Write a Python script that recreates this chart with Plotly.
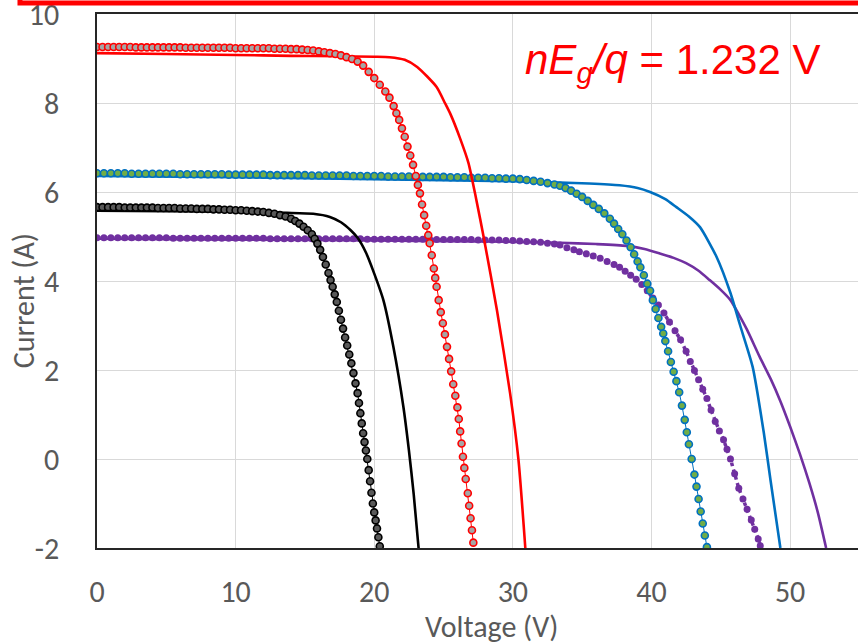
import plotly.graph_objects as go

# ---- measured I-V points (voltage in V, current in A) ----
red_meas_v = [0.0, 0.4, 0.8, 1.2, 1.6, 2.0, 2.4, 2.8, 3.2, 3.6, 4.0, 4.4, 4.8, 5.2, 5.6, 6.0,
              6.4, 6.8, 7.2, 7.6, 8.0, 8.4, 8.8, 9.2, 9.6, 10.0, 10.4, 10.8, 11.2, 11.6, 12.0,
              12.4, 12.8, 13.2, 13.6, 14.0, 14.4, 14.8, 15.2, 15.6, 16.0, 16.4, 16.8, 17.2,
              17.6, 18.0, 18.4, 18.8, 19.2, 19.6, 20.0, 20.4, 20.8, 21.1, 21.4, 21.6, 21.8,
              22.0, 22.2, 22.4, 22.6, 22.8, 23.0, 23.15, 23.3, 23.45, 23.6, 23.75, 23.9, 24.0,
              24.15, 24.3, 24.4, 24.5, 24.65, 24.8, 24.95, 25.1, 25.25, 25.4, 25.55, 25.7,
              25.85, 26.0, 26.1, 26.2, 26.3, 26.4, 26.5, 26.6, 26.75, 26.85, 26.95, 27.05, 27.15]
red_meas_i = [9.26, 9.26, 9.26, 9.26, 9.26, 9.26, 9.26, 9.25, 9.25, 9.25, 9.25, 9.25, 9.25, 9.25,
              9.25, 9.25, 9.24, 9.24, 9.24, 9.24, 9.24, 9.24, 9.24, 9.24, 9.24, 9.23, 9.23, 9.23,
              9.23, 9.23, 9.23, 9.23, 9.22, 9.22, 9.22, 9.21, 9.21, 9.20, 9.19, 9.18, 9.16, 9.14,
              9.12, 9.10, 9.07, 9.03, 8.99, 8.93, 8.84, 8.70, 8.56, 8.41, 8.26, 8.12, 7.93, 7.77,
              7.62, 7.43, 7.24, 7.02, 6.82, 6.61, 6.36, 6.16, 5.97, 5.72, 5.48, 5.24, 5.03, 4.85,
              4.58, 4.28, 4.07, 3.87, 3.57, 3.30, 3.05, 2.80, 2.52, 2.25, 1.97, 1.68, 1.42, 1.16,
              0.90, 0.62, 0.35, 0.05, -0.20, -0.45, -0.77, -1.05, -1.33, -1.60, -1.88]

black_meas_v = [0.0, 0.4, 0.8, 1.2, 1.6, 2.0, 2.4, 2.8, 3.2, 3.6, 4.0, 4.4, 4.8, 5.2, 5.6, 6.0,
                6.4, 6.8, 7.2, 7.6, 8.0, 8.4, 8.8, 9.2, 9.6, 10.0, 10.4, 10.8, 11.2, 11.6, 12.0,
                12.4, 12.8, 13.2, 13.6, 14.0, 14.3, 14.6, 14.9, 15.2, 15.5, 15.7, 15.9, 16.1,
                16.3, 16.5, 16.7, 16.85, 17.0, 17.15, 17.3, 17.45, 17.6, 17.75, 17.9, 18.05,
                18.2, 18.35, 18.5, 18.65, 18.8, 18.9, 19.0, 19.1, 19.2, 19.3, 19.4, 19.5, 19.6,
                19.7, 19.8, 19.9, 20.0, 20.1, 20.2, 20.3, 20.4]
black_meas_i = [5.66, 5.66, 5.66, 5.66, 5.66, 5.65, 5.65, 5.65, 5.65, 5.65, 5.65, 5.64, 5.64,
                5.64, 5.64, 5.63, 5.63, 5.63, 5.62, 5.62, 5.62, 5.61, 5.61, 5.60, 5.60, 5.59,
                5.59, 5.58, 5.57, 5.56, 5.55, 5.53, 5.51, 5.48, 5.45, 5.40, 5.35, 5.29, 5.22,
                5.14, 5.05, 4.95, 4.84, 4.70, 4.54, 4.37, 4.18, 4.02, 3.87, 3.70, 3.53, 3.33,
                3.13, 2.93, 2.73, 2.55, 2.35, 2.15, 1.93, 1.70, 1.48, 1.26, 1.03, 0.80, 0.58,
                0.38, 0.19, 0.00, -0.25, -0.50, -0.76, -1.00, -1.20, -1.38, -1.56, -1.76, -1.96]

blue_meas_v = [0.0, 0.5, 1.0, 1.5, 2.0, 2.5, 3.0, 3.5, 4.0, 4.5, 5.0, 5.5, 6.0, 6.5, 7.0, 7.5,
               8.0, 8.5, 9.0, 9.5, 10.0, 10.5, 11.0, 11.5, 12.0, 12.5, 13.0, 13.5, 14.0, 14.5,
               15.0, 15.5, 16.0, 16.5, 17.0, 17.5, 18.0, 18.5, 19.0, 19.5, 20.0, 20.5, 21.0,
               21.5, 22.0, 22.5, 23.0, 23.5, 24.0, 24.5, 25.0, 25.5, 26.0, 26.5, 27.0, 27.5,
               28.0, 28.5, 29.0, 29.5, 30.0, 30.5, 31.0, 31.5, 32.0, 32.5, 33.0, 33.4, 33.8,
               34.2, 34.6, 35.0, 35.4, 35.8, 36.2, 36.6, 37.0, 37.3, 37.6, 37.9, 38.2, 38.5,
               38.75, 39.0, 39.2, 39.45, 39.7, 39.9, 40.1, 40.3, 40.5, 40.7, 40.85, 41.0, 41.2,
               41.4, 41.6, 41.8, 42.0, 42.2, 42.4, 42.55, 42.7, 42.9, 43.1, 43.25, 43.4, 43.55,
               43.7, 43.85, 44.0]
blue_meas_i = [6.42, 6.42, 6.42, 6.42, 6.42, 6.41, 6.41, 6.41, 6.41, 6.41, 6.41, 6.41, 6.40,
               6.40, 6.40, 6.40, 6.40, 6.40, 6.40, 6.39, 6.39, 6.39, 6.39, 6.39, 6.39, 6.38,
               6.38, 6.38, 6.38, 6.38, 6.38, 6.37, 6.37, 6.37, 6.37, 6.37, 6.37, 6.36, 6.36,
               6.36, 6.36, 6.36, 6.35, 6.35, 6.35, 6.35, 6.35, 6.34, 6.34, 6.34, 6.34, 6.33,
               6.33, 6.33, 6.32, 6.32, 6.32, 6.31, 6.31, 6.30, 6.30, 6.29, 6.27, 6.25, 6.23,
               6.20, 6.17, 6.14, 6.09, 6.03, 5.96, 5.89, 5.80, 5.71, 5.62, 5.52, 5.40, 5.29,
               5.17, 5.05, 4.91, 4.76, 4.60, 4.44, 4.31, 4.13, 3.94, 3.78, 3.57, 3.37, 3.17,
               2.97, 2.82, 2.65, 2.42, 2.18, 1.96, 1.75, 1.50, 1.20, 0.88, 0.60, 0.33, 0.00,
               -0.35, -0.62, -0.90, -1.18, -1.45, -1.72, -1.98]

purple_meas_v = [0.0, 0.5, 1.0, 1.5, 2.0, 2.5, 3.0, 3.5, 4.0, 4.5, 5.0, 5.5, 6.0, 6.5, 7.0,
                 7.5, 8.0, 8.5, 9.0, 9.5, 10.0, 10.5, 11.0, 11.5, 12.0, 12.5, 13.0, 13.5, 14.0,
                 14.5, 15.0, 15.5, 16.0, 16.5, 17.0, 17.5, 18.0, 18.5, 19.0, 19.5, 20.0, 20.5,
                 21.0, 21.5, 22.0, 22.5, 23.0, 23.5, 24.0, 24.5, 25.0, 25.5, 26.0, 26.5, 27.0,
                 27.5, 28.0, 28.5, 29.0, 29.5, 30.0, 30.5, 31.0, 31.5, 32.0, 32.5, 33.0, 33.4,
                 33.9, 34.4, 34.8, 35.3, 35.8, 36.3, 36.8, 37.3, 37.7, 38.1, 38.5, 38.9, 39.3,
                 39.7, 40.1, 40.5, 40.9, 41.3, 41.7, 42.1, 42.5, 42.8, 43.1, 43.4, 43.7, 44.0,
                 44.3, 44.6, 44.9, 45.2, 45.45, 45.7, 46.0, 46.3, 46.6, 46.9, 47.2, 47.45, 47.7,
                 47.85]
purple_meas_i = [4.97, 4.97, 4.97, 4.97, 4.97, 4.97, 4.97, 4.97, 4.97, 4.97, 4.97, 4.96, 4.96,
                 4.96, 4.96, 4.96, 4.96, 4.96, 4.96, 4.96, 4.96, 4.96, 4.96, 4.96, 4.96, 4.95,
                 4.95, 4.95, 4.95, 4.95, 4.95, 4.95, 4.95, 4.95, 4.95, 4.95, 4.95, 4.95, 4.95,
                 4.94, 4.94, 4.94, 4.94, 4.94, 4.94, 4.94, 4.94, 4.94, 4.94, 4.93, 4.93, 4.93,
                 4.93, 4.93, 4.93, 4.92, 4.92, 4.92, 4.92, 4.91, 4.91, 4.90, 4.89, 4.88, 4.87,
                 4.85, 4.83, 4.81, 4.75, 4.70, 4.66, 4.61, 4.56, 4.51, 4.44, 4.37, 4.31, 4.22,
                 4.13, 4.04, 3.92, 3.78, 3.62, 3.46, 3.28, 3.08, 2.88, 2.68, 2.42, 2.19, 1.99,
                 1.78, 1.57, 1.36, 1.10, 0.84, 0.63, 0.43, 0.22, 0.00, -0.33, -0.66, -0.90,
                 -1.13, -1.37, -1.58, -1.80, -1.95]

# ---- model curves ----
red_model_v = [0.0, 5.0, 10.0, 14.0, 17.5, 20.0, 21.1, 22.2, 23.1, 24.5, 25.1, 25.5, 26.2,
               26.8, 27.35, 27.9, 28.85, 29.8, 30.4, 30.9]
red_model_i = [9.12, 9.10, 9.08, 9.06, 9.05, 9.04, 9.03, 8.97, 8.81, 8.36, 8.00, 7.75, 7.20,
               6.65, 5.85, 4.98, 3.35, 1.48, 0.00, -2.00]

black_model_v = [0.0, 5.0, 10.0, 13.7, 15.6, 16.8, 17.6, 18.3, 18.8, 19.4, 19.9, 20.66, 21.38,
                 22.1, 22.5, 22.85, 23.2]
black_model_i = [5.58, 5.57, 5.55, 5.53, 5.51, 5.44, 5.32, 5.14, 4.97, 4.64, 4.25, 3.57, 2.52,
                 1.18, 0.20, -0.80, -2.00]

blue_model_v = [0.0, 10.0, 20.0, 30.0, 33.4, 35.5, 37.7, 39.0, 39.9, 41.0, 41.8, 42.7, 43.5,
                44.7, 45.7, 46.4, 47.3, 48.1, 48.6, 49.3]
blue_model_i = [6.36, 6.33, 6.29, 6.24, 6.21, 6.19, 6.15, 6.09, 6.00, 5.84, 5.66, 5.45, 5.21,
                4.54, 3.73, 3.00, 2.07, 0.60, -0.50, -2.00]

purple_model_v = [0.0, 10.0, 20.0, 30.0, 33.4, 36.0, 38.2, 39.5, 40.6, 41.6, 42.5, 43.4, 44.2,
                  45.0, 45.7, 46.3, 46.9, 47.8, 48.6, 49.3, 50.0, 50.7, 51.4, 52.0, 52.6]
purple_model_i = [4.95, 4.93, 4.91, 4.88, 4.86, 4.83, 4.79, 4.72, 4.62, 4.52, 4.40, 4.23, 4.02,
                  3.80, 3.57, 3.25, 2.90, 2.30, 1.80, 1.30, 0.73, 0.12, -0.55, -1.20, -2.00]

x_ticks = [0, 10, 20, 30, 40, 50]
x_tick_text = ["0", "10", "20", "30", "40", "50"]
y_ticks = [-2, 0, 2, 4, 6, 8, 10]
y_tick_text = ["-2", "0", "2", "4", "6", "8", "10"]

RED = "#FF0000"
BLUE = "#0070C0"
PURPLE = "#7030A0"
GREEN = "#70AD47"
TEXT = "#595959"
FONT = "Carlito, Calibri, Lato, sans-serif"
FS = 30

fig = go.Figure()


def model(v, i, color):
    fig.add_trace(go.Scatter(x=v, y=i, mode="lines",
                             line=dict(color=color, width=2.6, shape="spline", smoothing=0.6),
                             showlegend=False, hoverinfo="skip"))


def measured(v, i, fill, edge, size=7):
    fig.add_trace(go.Scatter(x=v, y=i, mode="lines+markers",
                             line=dict(color=edge, width=1),
                             marker=dict(symbol="circle", size=size, color=fill,
                                         line=dict(color=edge, width=1.6)),
                             showlegend=False, hoverinfo="skip"))


# purple pair
model(purple_model_v, purple_model_i, PURPLE)
fig.add_trace(go.Scatter(x=purple_meas_v, y=purple_meas_i, mode="lines+markers",
                         line=dict(color=PURPLE, width=3.5, dash="dot"),
                         marker=dict(symbol="circle", size=7, color=PURPLE,
                                     line=dict(width=0)),
                         showlegend=False, hoverinfo="skip"))
# blue pair
model(blue_model_v, blue_model_i, BLUE)
measured(blue_meas_v, blue_meas_i, GREEN, BLUE)
# black pair
model(black_model_v, black_model_i, "#000000")
measured(black_meas_v, black_meas_i, "#595959", "#000000")
# red pair
model(red_model_v, red_model_i, RED)
measured(red_meas_v, red_meas_i, "#A5A5A5", RED)

fig.update_layout(
    width=858, height=644,
    margin=dict(l=97, r=0, t=14, b=96, autoexpand=False),
    paper_bgcolor="white", plot_bgcolor="white",
    font=dict(family=FONT, size=FS, color=TEXT),
    showlegend=False,
)
fig.update_xaxes(range=[0, 54.9], tickvals=x_ticks, ticktext=x_tick_text, showgrid=True,
                 gridcolor="#D9D9D9", gridwidth=1.3, zeroline=False, showline=True,
                 linecolor="#262626", linewidth=1.5, mirror=True, ticks="",
                 ticklabelstandoff=16, ticklabeloverflow="allow", automargin=False,
                 tickfont=dict(family=FONT, size=FS, color=TEXT))
fig.update_yaxes(range=[-2, 10], tickvals=y_ticks, ticktext=y_tick_text, showgrid=True,
                 gridcolor="#D9D9D9", gridwidth=1.3, zeroline=False, showline=True,
                 linecolor="#262626", linewidth=1.5, ticks="", ticklabelstandoff=30,
                 ticklabeloverflow="allow", automargin=False,
                 tickfont=dict(family=FONT, size=FS, color=TEXT))

# axis titles
fig.add_annotation(text="Voltage (V)", xref="paper", yref="paper", x=0.519, y=-0.147,
                   showarrow=False, xanchor="center", yanchor="middle",
                   font=dict(family=FONT, size=FS, color=TEXT))
fig.add_annotation(text="Current (A)", xref="paper", yref="paper", x=-0.097, y=0.4625,
                   showarrow=False, xanchor="center", yanchor="middle", textangle=-90,
                   font=dict(family=FONT, size=FS, color=TEXT))

# fitted band-gap label
fig.add_annotation(text="<i>nE</i><sub><i>g</i></sub><i>/q</i> = 1.232 V",
                   xref="paper", yref="paper", x=0.9527, y=0.910,
                   showarrow=False, xanchor="right", yanchor="middle",
                   font=dict(family="Liberation Sans, Arial, sans-serif", size=42, color=RED))

# red frame running along the top edge
fig.add_shape(type="rect", xref="paper", yref="paper", x0=-0.1012, x1=1.2, y0=1.0206, y1=1.3,
              line=dict(color=RED, width=5), fillcolor="rgba(0,0,0,0)", layer="above")

fig.write_html("out.html")
